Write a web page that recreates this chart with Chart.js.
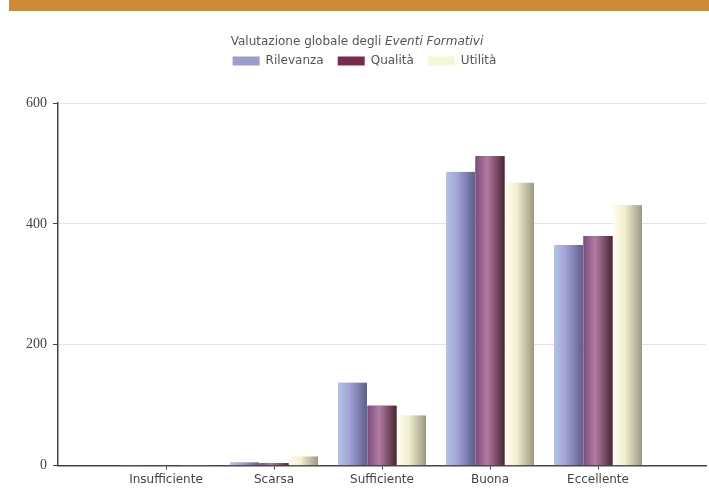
<!DOCTYPE html>
<html>
<head>
<meta charset="utf-8">
<script src="https://cdn.jsdelivr.net/npm/chart.js@4.4.1/dist/chart.umd.min.js"></script>
<style>
  body { margin:0; background:#fff; }
  #band { position:absolute; left:9px; top:0; width:700px; height:11px; background:#cf8a35; }
  #wrap { position:absolute; left:0; top:0; width:709px; height:490px; }
</style>
</head>
<body>
<div id="wrap"><canvas id="myChart" width="709" height="490"></canvas></div>
<div id="band"></div>
<script>
// categorie (con vuoti ai lati per allineare come nell'originale)
const categorie = ['', 'Insufficiente', 'Scarsa', 'Sufficiente', 'Buona', 'Eccellente', ''];
const rilevanza = [null, 1, 5, 137, 486, 365, null];
const qualita   = [null, 1, 4, 99, 512, 380, null];
const utilita   = [null, 1, 15, 83, 468, 431, null];
const yTicks = [0, 200, 400, 600];

// colori: [sinistra, centro, destra]
const grad = [
  ['#b4c4e6', '#a2a2d6', '#5e5e8c'],
  ['#7c4c7e', '#b27aa2', '#4a2634'],
  ['#fffef0', '#f2f0d0', '#9a9882']
];

const FONT = '"DejaVu Sans", Verdana, sans-serif';

const gradientBars = {
  id: 'gradientBars',
  afterDatasetsDraw(chart) {
    const c = chart.ctx;
    chart.data.datasets.forEach((ds, i) => {
      const meta = chart.getDatasetMeta(i);
      meta.data.forEach((el, j) => {
        if (ds.data[j] == null) return;
        const l = el.x - el.width / 2, r = el.x + el.width / 2;
        const g = c.createLinearGradient(l, 0, r, 0);
        g.addColorStop(0, grad[i][0]);
        g.addColorStop(0.4, grad[i][1]);
        g.addColorStop(1, grad[i][2]);
        c.save();
        c.fillStyle = g;
        c.fillRect(l, el.y, el.width, el.base - el.y);
        c.restore();
      });
    });
  }
};

// spazio extra sotto la legenda
const legendGap = {
  id: 'legendGap',
  beforeInit(chart) {
    const fit = chart.legend.fit;
    chart.legend.fit = function () {
      fit.bind(chart.legend)();
      this.height += 26;
    };
  }
};

const titolo = {
  id: 'titolo',
  afterDraw(chart) {
    const c = chart.ctx;
    const a = 'Valutazione globale degli ', b = 'Eventi Formativi';
    c.save();
    c.fillStyle = '#555';
    c.textBaseline = 'middle';
    c.font = '12px ' + FONT;
    const wa = c.measureText(a).width;
    c.font = 'italic 12px ' + FONT;
    const wb = c.measureText(b).width;
    let x = 357 - (wa + wb) / 2;
    c.font = '12px ' + FONT;
    c.fillText(a, x, 42);
    c.font = 'italic 12px ' + FONT;
    c.fillText(b, x + wa, 42);
    c.restore();
  }
};

const config = {
  type: 'bar',
  data: {
    labels: categorie,
    datasets: [
      { label: 'Rilevanza', data: rilevanza, backgroundColor: '#9c9cce' },
      { label: 'Qualità', data: qualita, backgroundColor: '#7a2a4a' },
      { label: 'Utilità', data: utilita, backgroundColor: '#f4f8d6' }
    ]
  },
  options: {
    responsive: false,
    animation: false,
    layout: { padding: { top: 41, right: 0, left: 20, bottom: 0 } },
    datasets: { bar: { categoryPercentage: 0.82, barPercentage: 0.98 } },
    plugins: {
      title: { display: false },
      tooltip: { enabled: false },
      legend: {
        position: 'top',
        labels: {
          boxWidth: 27, boxHeight: 9, padding: 14,
          color: '#555',
          font: { family: FONT, size: 12 }
        }
      }
    },
    scales: {
      x: {
        offset: false,
        grid: {
          offset: false,
          drawOnChartArea: false, tickLength: 4,
          tickColor: ctx => (categorie[ctx.index] ? '#444' : 'rgba(0,0,0,0)')
        },
        border: { color: '#444', width: 1.5 },
        ticks: {
          color: '#444', padding: 3, maxRotation: 0, autoSkip: false,
          font: { family: FONT, size: 12 }
        }
      },
      y: {
        min: 0, max: 600,
        afterBuildTicks: s => { s.ticks = yTicks.map(v => ({ value: v })); },
        grid: { color: '#e4e4e4', tickColor: '#444', tickLength: 5 },
        border: { color: '#444', width: 1.5 },
        ticks: {
          color: '#444', padding: 6,
          font: { family: '"Liberation Serif", serif', size: 14 }
        }
      }
    }
  },
  plugins: [gradientBars, legendGap, titolo]
};

const myChart = new Chart(document.getElementById('myChart'), config);
</script>
</body>
</html>
